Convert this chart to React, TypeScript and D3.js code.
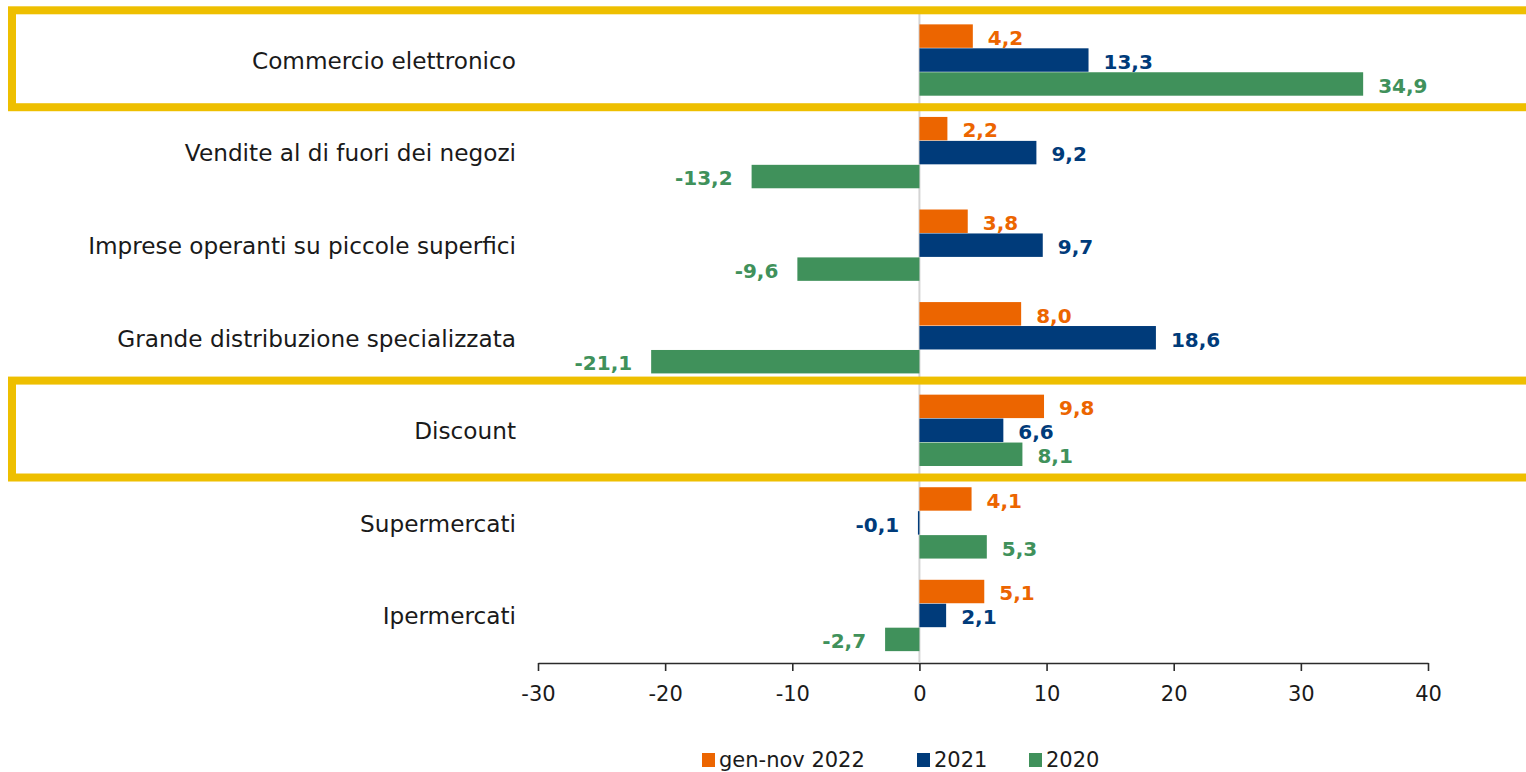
import * as d3 from "d3";
import { useEffect, useRef } from "react";

// categorie e serie (var. % tendenziali)
const categories = [
  "Commercio elettronico",
  "Vendite al di fuori dei negozi",
  "Imprese operanti su piccole superfici",
  "Grande distribuzione specializzata",
  "Discount",
  "Supermercati",
  "Ipermercati",
];
const seriesNames = ["gen-nov 2022", "2021", "2020"];
const v2022 = [4.2, 2.2, 3.8, 8.0, 9.8, 4.1, 5.1];
const v2021 = [13.3, 9.2, 9.7, 18.6, 6.6, -0.1, 2.1];
const v2020 = [34.9, -13.2, -9.6, -21.1, 8.1, 5.3, -2.7];
const highlighted = ["Commercio elettronico", "Discount"];
const xTicks = [-30, -20, -10, 0, 10, 20, 30, 40];

const colors = ["#EC6500", "#003B7A", "#40915B"];
const yellow = "#EEBF00";
const FONT = "'DejaVu Sans', sans-serif";

const it = d3.formatLocale({
  decimal: ",",
  thousands: ".",
  grouping: [3],
  currency: ["", "€"],
  minus: "-",
});
const fmt1 = it.format(".1f");
const fmt0 = it.format("d");

const width = 1526;
const height = 772;
const marginTop = 14;
const axisY = 662;

export default function App() {
  const axisRef = useRef<SVGGElement>(null);

  const x = d3.scaleLinear().domain([-30, 40]).range([538, 1428]);
  const y = d3
    .scaleBand<string>()
    .domain(categories)
    .range([marginTop, axisY])
    .paddingInner(0.224)
    .paddingOuter(0.112);
  const ySub = d3
    .scaleBand<string>()
    .domain(seriesNames)
    .range([0, y.bandwidth()]);

  const series = [v2022, v2021, v2020];

  useEffect(() => {
    const g = d3.select(axisRef.current);
    g.selectAll("*").remove();
    g.call(
      d3
        .axisBottom(x)
        .tickValues(xTicks)
        .tickFormat((d) => fmt0(d as number))
        .tickSize(8)
        .tickSizeOuter(0)
    );
    g.select(".domain").attr("stroke", "#2b2b2b").attr("stroke-width", 1.6);
    g.selectAll(".tick line").attr("stroke", "#2b2b2b").attr("stroke-width", 1.6);
    g.selectAll(".tick text")
      .attr("font-family", FONT)
      .attr("font-size", 21)
      .attr("fill", "#1a1a1a")
      .attr("dy", "1.3em");
  }, []);

  const step = y.step();

  return (
    <svg
      width={width}
      height={height}
      style={{ position: "absolute", left: 0, top: 0, background: "#fff" }}
    >
      {/* linea dello zero */}
      <line
        x1={x(0)}
        x2={x(0)}
        y1={10}
        y2={axisY}
        stroke="#d4d4d4"
        strokeWidth={2}
      />

      {categories.map((cat, i) => {
        const y0 = y(cat)!;
        const cy = y0 + y.bandwidth() / 2;
        return (
          <g key={cat}>
            <text
              x={516}
              y={cy}
              textAnchor="end"
              dominantBaseline="central"
              fontFamily={FONT}
              fontSize={23.2}
              fill="#1a1a1a"
            >
              {cat}
            </text>
            {series.map((vals, s) => {
              const v = vals[i];
              const by = y0 + ySub(seriesNames[s])!;
              const bh = ySub.bandwidth();
              const x0 = x(Math.min(0, v));
              const w = Math.max(1.5, Math.abs(x(v) - x(0)));
              const neg = v < 0;
              return (
                <g key={s}>
                  <rect
                    x={neg && Math.abs(x(v) - x(0)) < 1.5 ? x(0) - 1.5 : x0}
                    y={by}
                    width={w}
                    height={bh - 0.5}
                    fill={colors[s]}
                  />
                  <text
                    x={neg ? x(v) - 19 : x(v) + 15}
                    y={by + bh / 2 + 1.5}
                    textAnchor={neg ? "end" : "start"}
                    dominantBaseline="central"
                    fontFamily={FONT}
                    fontWeight="bold"
                    fontSize={20}
                    fill={colors[s]}
                  >
                    {fmt1(v)}
                  </text>
                </g>
              );
            })}
          </g>
        );
      })}

      {/* riquadri evidenziati */}
      {highlighted.map((cat) => {
        const cy = y(cat)! + y.bandwidth() / 2;
        const top = cy - step * 0.54;
        const bottom = cy + step * 0.507;
        return (
          <rect
            key={cat}
            x={12}
            y={top}
            width={width + 20}
            height={bottom - top}
            fill="none"
            stroke={yellow}
            strokeWidth={8}
          />
        );
      })}

      <g ref={axisRef} transform={`translate(0,${axisY + 1})`} />

      {/* legenda */}
      {seriesNames.map((name, s) => {
        const lx = [702, 917, 1029][s];
        return (
          <g key={name} transform={`translate(${lx},753)`}>
            <rect width={13} height={14} fill={colors[s]} />
            <text
              x={17}
              y={7}
              dominantBaseline="central"
              fontFamily={FONT}
              fontSize={21}
              fill="#1a1a1a"
            >
              {name}
            </text>
          </g>
        );
      })}
    </svg>
  );
}
